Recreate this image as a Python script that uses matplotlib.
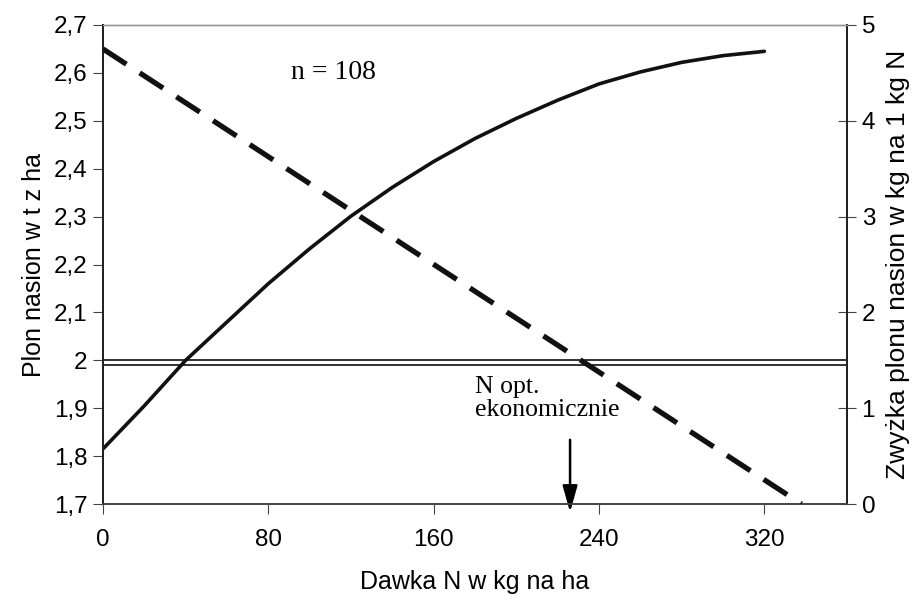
import numpy as np
import matplotlib.pyplot as plt

# ==============================================================================
# data
dawka = [0, 20, 40, 60, 80, 100, 120, 140, 160, 180, 200, 220, 240, 260, 280, 300, 320]
plon = [1.815, 1.905, 2.0, 2.08, 2.16, 2.233, 2.301, 2.361, 2.415, 2.463, 2.505, 2.543,
        2.577, 2.602, 2.622, 2.636, 2.645]

zwyzka_x = [0, 338]
zwyzka_y = [4.75, 0.0]

prog_plonu = [2.0, 1.99]
n_opt = 226

xticks = [0, 80, 160, 240, 320]
yticks_left = [1.7, 1.8, 1.9, 2.0, 2.1, 2.2, 2.3, 2.4, 2.5, 2.6, 2.7]
yticks_right = [0, 1, 2, 3, 4, 5]

# ==============================================================================
plt.rcParams['font.family'] = ['Liberation Sans', 'DejaVu Sans']

fig = plt.figure(figsize=(9.16, 5.95), dpi=100)
ax = fig.add_axes([0.1124, 0.1529, 0.8123, 0.8051])
ax2 = ax.twinx()

ax.plot(dawka, plon, color='#111111', lw=2.6, solid_capstyle='round', zorder=3)
for y in prog_plonu:
    ax.axhline(y, color='#222222', lw=1.3, zorder=2)

ax2.plot(zwyzka_x, zwyzka_y, color='#111111', lw=3.8, dashes=(5.3, 3.0), zorder=3)

ax.set_xlim(0, 360)
ax.set_ylim(1.7, 2.7)
ax2.set_ylim(0, 5)

ax.set_xticks(xticks)
ax.set_yticks(yticks_left)
ax.set_yticklabels([("%.1f" % v).replace('.', ',') if v != 2.0 else '2' for v in yticks_left])
ax2.set_yticks(yticks_right)

ax.tick_params(axis='both', labelsize=17.5, direction='out', length=7, color='#444444')
ax.tick_params(axis='x', pad=11)
ax.tick_params(axis='y', pad=4)
ax2.tick_params(axis='y', labelsize=17.5, direction='inout', length=13, color='#444444', pad=4)

ax.set_xlabel("Dawka N w kg na ha", fontsize=18, labelpad=13.5)
ax.set_ylabel("Plon nasion w t z ha", fontsize=18, labelpad=6)
ax2.set_ylabel("Zwyżka plonu nasion w kg na 1 kg N", fontsize=19, labelpad=8)

for a in (ax, ax2):
    a.spines['top'].set_color('#999999')
    a.spines['top'].set_linewidth(1.0)
    a.spines['left'].set_color('#222222')
    a.spines['left'].set_linewidth(1.4)
    a.spines['right'].set_color('#222222')
    a.spines['right'].set_linewidth(1.4)
    a.spines['bottom'].set_color('#444444')
    a.spines['bottom'].set_linewidth(1.2)

ax.text(91, 2.6, "n = 108", family='Liberation Serif', fontsize=20, va='center', ha='left')
ax.text(180, 1.967, "N opt.\nekonomicznie", family='Liberation Serif', fontsize=18.5,
        va='top', ha='left', linespacing=1.05)
ax.annotate("", xy=(n_opt, 1.683), xytext=(n_opt, 1.834),
            arrowprops=dict(arrowstyle='-|>,head_length=1.6,head_width=0.45',
                            color='black', lw=1.8, shrinkA=0, shrinkB=0),
            annotation_clip=False, zorder=4)

fig.savefig("out.png", dpi=100)
